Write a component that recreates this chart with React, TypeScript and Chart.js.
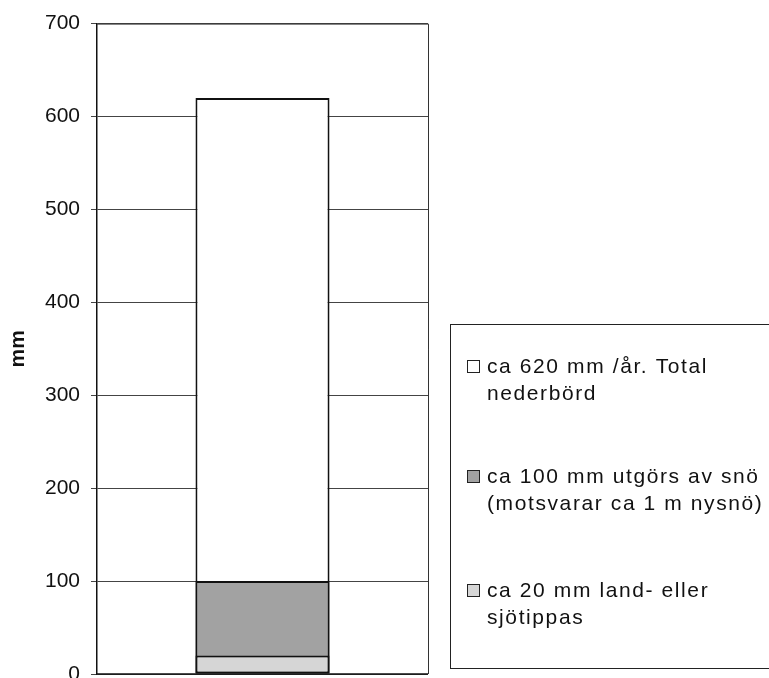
import React, { useEffect, useRef } from "react";
import { Chart, registerables } from "chart.js";

Chart.register(...registerables);

const categories = [""];
const totalValues = [620];
const snowValues = [100];
const tippedValues = [20];
const yTicks = [0, 100, 200, 300, 400, 500, 600, 700];
const legendLabels = [
  ["ca 620 mm /år. Total", "nederbörd"],
  ["ca 100 mm utgörs av snö", "(motsvarar ca 1 m nysnö)"],
  ["ca 20 mm land- eller", "sjötippas"],
];
const seriesColors = ["#ffffff", "#a2a2a2", "#d6d6d6"];
const yTitle = "mm";

const FONT = "'Liberation Sans', Arial, sans-serif";

const plotBorder = {
  id: "plotBorder",
  beforeDatasetsDraw(chart: any) {
    const { ctx, chartArea } = chart;
    ctx.save();
    ctx.strokeStyle = "#333";
    ctx.lineWidth = 1;
    ctx.beginPath();
    ctx.moveTo(chartArea.left, chartArea.top + 0.5);
    ctx.lineTo(chartArea.right + 0.5, chartArea.top + 0.5);
    ctx.lineTo(chartArea.right + 0.5, chartArea.bottom);
    ctx.stroke();
    ctx.strokeStyle = "#111";
    ctx.lineWidth = 1.5;
    ctx.beginPath();
    ctx.moveTo(chartArea.left, chartArea.bottom);
    ctx.lineTo(chartArea.right, chartArea.bottom);
    ctx.stroke();
    ctx.restore();
  },
};

const boxLegend = {
  id: "boxLegend",
  afterDraw(chart: any) {
    const { ctx } = chart;
    ctx.save();
    ctx.strokeStyle = "#222";
    ctx.lineWidth = 1;
    ctx.strokeRect(450.5, 324.5, 340, 344);
    const tops = [360, 470, 584];
    legendLabels.forEach((lines, i) => {
      const y = tops[i];
      ctx.fillStyle = seriesColors[i];
      ctx.fillRect(467.5, y + 0.5, 12, 12);
      ctx.strokeStyle = "#222";
      ctx.strokeRect(467.5, y + 0.5, 12, 12);
      ctx.fillStyle = "#111";
      ctx.font = `21px ${FONT}`;
      (ctx as any).letterSpacing = "1.6px";
      ctx.textBaseline = "alphabetic";
      ctx.textAlign = "left";
      lines.forEach((line, j) => {
        ctx.fillText(line, 487, y + 13 + j * 27);
      });
    });
    ctx.restore();
  },
};

export default function App() {
  const ref = useRef<HTMLCanvasElement>(null);
  useEffect(() => {
    if (!ref.current) return;
    const chart = new Chart(ref.current, {
      type: "bar",
      data: {
        labels: categories,
        datasets: [
          {
            label: legendLabels[2].join(" "),
            data: tippedValues,
            backgroundColor: seriesColors[2],
            borderColor: "#111",
            borderWidth: 2,
            borderSkipped: false,
            order: 1,
          },
          {
            label: legendLabels[1].join(" "),
            data: snowValues,
            backgroundColor: seriesColors[1],
            borderColor: "#111",
            borderWidth: 2,
            borderSkipped: false,
            order: 2,
          },
          {
            label: legendLabels[0].join(" "),
            data: totalValues,
            backgroundColor: seriesColors[0],
            borderColor: "#111",
            borderWidth: 2,
            borderSkipped: false,
            order: 3,
          },
        ],
      },
      options: {
        animation: false,
        responsive: false,
        maintainAspectRatio: false,
        layout: { padding: { top: 18, right: 341, bottom: 26, left: 0 } },
        plugins: { legend: { display: false }, tooltip: { enabled: false } },
        datasets: {
          bar: { grouped: false, categoryPercentage: 1, barPercentage: 0.405 },
        } as any,
        scales: {
          x: { display: false },
          y: {
            min: 0,
            max: 700,
            afterBuildTicks: (scale: any) => {
              scale.ticks = yTicks.map((v) => ({ value: v }));
            },
            afterFit: (scale: any) => {
              scale.width = 97;
            },
            ticks: {
              color: "#111",
              font: { family: FONT, size: 21 },
              padding: 11,
            },
            grid: {
              color: "#444",
              lineWidth: 1,
              tickLength: 6,
              drawOnChartArea: true,
            },
            border: { display: true, color: "#111", width: 1.5 },
            title: {
              display: true,
              text: yTitle,
              color: "#111",
              font: { family: FONT, size: 21, weight: "bold" },
              padding: { top: 6, bottom: 0 },
            },
          },
        },
      },
      plugins: [plotBorder, boxLegend],
    });
    return () => chart.destroy();
  }, []);
  return (
    <div style={{ position: "fixed", left: 0, top: 0, width: 769, height: 700 }}>
      <canvas ref={ref} width={769} height={700} style={{ width: 769, height: 700 }} />
    </div>
  );
}
